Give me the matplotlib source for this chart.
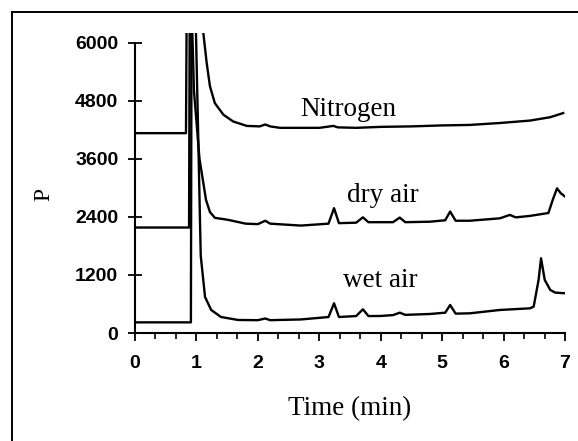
import matplotlib.pyplot as plt
from matplotlib.lines import Line2D
from matplotlib.ticker import MultipleLocator

# Datos (tiempo en min, P)
n2_t = [0, 0.83, 0.84, 1.10, 1.13, 1.167, 1.22, 1.30, 1.44, 1.60, 1.82, 2.03, 2.12,
        2.2, 2.36, 2.7, 3.0, 3.23, 3.3, 3.6, 4.0, 4.5, 5.0, 5.45, 5.94, 6.43, 6.76, 6.97]
n2_v = [4130, 4130, 6350, 6350, 6000, 5580, 5100, 4750, 4510, 4370, 4280, 4270, 4310,
        4270, 4240, 4240, 4240, 4280, 4250, 4240, 4260, 4270, 4290, 4300, 4340, 4390, 4460, 4545]

dry_t = [0, 0.88, 0.89, 0.93, 0.96, 1.05, 1.156, 1.22, 1.30, 1.51, 1.8, 2.0, 2.12, 2.2,
         2.7, 3.15, 3.24, 3.32, 3.6, 3.71, 3.8, 4.2, 4.31, 4.4, 4.8, 5.05, 5.13, 5.22,
         5.45, 5.94, 6.1, 6.2, 6.43, 6.73, 6.8, 6.87, 6.93, 7.0]
dry_v = [2180, 2180, 6350, 6350, 5000, 3600, 2750, 2500, 2380, 2340, 2260, 2250, 2320, 2260,
         2220, 2260, 2580, 2270, 2280, 2390, 2290, 2290, 2385, 2290, 2300, 2330, 2510, 2320,
         2320, 2370, 2440, 2390, 2420, 2480, 2750, 2990, 2890, 2820]

wet_t = [0, 0.91, 0.92, 0.99, 1.03, 1.07, 1.14, 1.24, 1.40, 1.68, 2.0, 2.12, 2.2,
         2.7, 3.15, 3.24, 3.32, 3.6, 3.71, 3.8, 4.0, 4.2, 4.31, 4.4, 4.8, 5.05, 5.13,
         5.22, 5.45, 5.94, 6.43, 6.49, 6.57, 6.61, 6.67, 6.76, 6.84, 7.0]
wet_v = [220, 220, 6350, 6350, 4000, 1600, 745, 476, 331, 269, 265, 300, 265,
         280, 330, 614, 331, 350, 490, 350, 352, 370, 420, 375, 393, 420, 579,
         400, 407, 476, 510, 545, 1097, 1545, 1097, 890, 835, 821]

labels = ['Nitrogen', 'dry air', 'wet air']
label_x = [3.48, 4.04, 3.99]
label_y = [4475, 2717, 958]

y_ticks = [0, 1200, 2400, 3600, 4800, 6000]
x_ticks = [0, 1, 2, 3, 4, 5, 6, 7]

W, H = 578, 441
fig = plt.figure(figsize=(W / 100, H / 100), dpi=100)
ax = fig.add_axes([135 / W, 1 - 333 / H, 430 / W, 300 / H])

for t, v in [(n2_t, n2_v), (dry_t, dry_v), (wet_t, wet_v)]:
    ax.plot(t, v, color='black', linewidth=1.7, solid_joinstyle='round')

for txt, x, y in zip(labels, label_x, label_y):
    ax.text(x, y, txt, ha='center', va='baseline', fontsize=19.5,
            family='Liberation Serif')

ax.set_xlim(0, 7)
ax.set_ylim(0, 6200)
ax.spines['top'].set_visible(False)
ax.spines['right'].set_visible(False)
ax.spines['left'].set_bounds(0, 6000)
for s in ['left', 'bottom']:
    ax.spines[s].set_linewidth(1.5)

ax.set_xticks(x_ticks)
ax.set_yticks(y_ticks)
ax.xaxis.set_minor_locator(MultipleLocator(1 / 3))
ax.tick_params(axis='x', which='major', direction='out', length=5.5, width=1.3, pad=10)
ax.tick_params(axis='x', which='minor', direction='out', length=4.5, width=1.2)
ax.tick_params(axis='y', which='major', direction='inout', length=10, width=1.3, pad=7)
for lab in ax.get_xticklabels() + ax.get_yticklabels():
    lab.set_fontweight('bold')
    lab.set_fontsize(14)
    lab.set_family('Liberation Sans')

fig.text(349.5 / W, 1 - 415 / H, 'Time (min)', ha='center', va='baseline',
         fontsize=19.5, family='Liberation Serif')
fig.text(44 / W, 1 - 194 / H, 'P', ha='center', va='center', rotation=90,
         fontsize=17, family='Liberation Serif')

# Marco exterior (solo arriba e izquierda visibles)
fig.add_artist(Line2D([12 / W, 1], [1 - 12 / H, 1 - 12 / H], color='black', lw=1.4))
fig.add_artist(Line2D([12 / W, 12 / W], [1 - 12 / H, 0], color='black', lw=1.4))

plt.savefig('out.png', dpi=100)
